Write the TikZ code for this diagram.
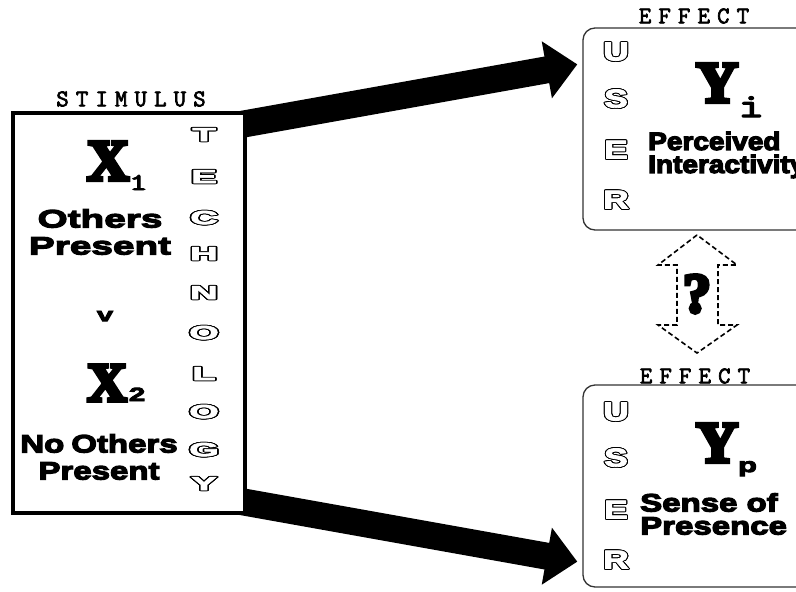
\documentclass[tikz,border=0pt]{standalone}
\usepackage{fontspec}
\usepackage[copies]{contour}
\usetikzlibrary{arrows.meta, positioning, backgrounds}

\newfontfamily\heavysans[FakeBold=5,FakeStretch=1.55]{Liberation Sans Bold}
\newfontfamily\midsans[FakeBold=5,FakeStretch=1.32]{Liberation Sans Bold}
\newfontfamily\narrowsans[FakeBold=5,FakeStretch=1.12]{Liberation Sans Bold}
\newfontfamily\heavyserif[FakeBold=7]{Liberation Serif Bold}
\newfontfamily\spacedmono[FakeBold=3,LetterSpace=30]{Latin Modern Mono}
\newfontfamily\submono[FakeBold=4,FakeStretch=1.5]{Latin Modern Mono}
\newfontfamily\outlinesans[FakeBold=3]{Liberation Sans Bold}
\contourlength{0.8pt}
\newcommand{\hollow}[2]{\scalebox{#1}[1]{\textcolor{white}{\contour{black}{#2}}}}

\begin{document}
\begin{tikzpicture}[x=1pt, y=-1pt,
        stimbox/.style={rectangle, draw=black, line width=3.5pt, fill=white, minimum width=232pt, minimum height=400pt, inner sep=0pt},
        effbox/.style={rectangle, draw=black!80, line width=1.3pt, fill=white, rounded corners=12pt, minimum width=250pt, minimum height=202pt, inner sep=0pt},
        caption/.style={font=\spacedmono\fontsize{24}{24}\selectfont, inner sep=0pt},
        bigvar/.style={inner sep=0pt, anchor=base west},
        cond/.style={align=center, inner sep=0pt, font=\heavysans\fontsize{25}{27}\selectfont},
        effcond/.style={align=left, inner sep=0pt, anchor=west, font=\narrowsans\fontsize{25}{23}\selectfont},
        techletter/.style={inner sep=0pt, font=\outlinesans\fontsize{19}{19}\selectfont},
        userletter/.style={inner sep=0pt, font=\outlinesans\fontsize{26}{26}\selectfont},
        bigarrow/.style={line width=27pt, -{Triangle[length=31pt, width=56pt]}},
        qarrow/.style={draw=black, line width=1.6pt, dash pattern=on 5pt off 3pt}
    ]
    \useasboundingbox (0,0) rectangle (796,592);
    \clip (0,0) rectangle (796,592);

    % Boxes
    \node[stimbox] (stim) at (129,313) {};
    \node[effbox] (effI) at (708,129) {};
    \node[effbox] (effP) at (708,486) {};

    % Captions
    \node[caption] (stimcap) at (131,99) {STIMULUS};
    \node[caption] (effIcap) at (694,16) {EFFECT};
    \node[caption] (effPcap) at (695,376) {EFFECT};

    % Stimulus side
    \node[bigvar] (xone) at (87,180) {{\heavyserif\fontsize{58}{58}\selectfont X}\raisebox{-10pt}{\submono\fontsize{24}{24}\selectfont 1}};
    \node[cond] (others) at (100,232) {Others\\Present};
    \node[cond, font=\heavysans\fontsize{19}{19}\selectfont] (vee) at (105,316) {v};
    \node[bigvar] (xtwo) at (87,401) {{\heavyserif\fontsize{55}{55}\selectfont X}\hspace{2pt}{\heavysans\fontsize{19}{19}\selectfont 2}};
    \node[cond, font=\midsans\fontsize{25}{27}\selectfont] (noothers) at (99,457) {No\hspace{7pt}Others\\Present};

    % TECHNOLOGY
    \node[techletter] (tT) at (204,135) {\hollow{2}{T}};
    \node[techletter] (tE) at (204,177) {\hollow{2}{E}};
    \node[techletter] (tC) at (204,218) {\hollow{2}{C}};
    \node[techletter] (tH) at (204,254) {\hollow{2}{H}};
    \node[techletter] (tN) at (204,293) {\hollow{2}{N}};
    \node[techletter] (tO) at (204,333) {\hollow{2}{O}};
    \node[techletter] (tL) at (204,374) {\hollow{2}{L}};
    \node[techletter] (tOO) at (204,412) {\hollow{2}{O}};
    \node[techletter] (tG) at (204,450) {\hollow{2}{G}};
    \node[techletter] (tY) at (204,484) {\hollow{2}{Y}};

    % Effect side
    \node[bigvar] (yi) at (696,102) {{\heavyserif\fontsize{58}{58}\selectfont Y}\raisebox{-15pt}{\submono\fontsize{34}{34}\selectfont i}};
    \node[effcond] (perc) at (648,155) {Perceived\\Interactivity};
    \node[bigvar] (yp) at (696,462) {{\heavyserif\fontsize{58}{58}\selectfont Y}\raisebox{-10pt}{\heavysans\fontsize{20}{20}\selectfont p}};
    \node[effcond, font=\midsans\fontsize{25}{23}\selectfont] (sense) at (640,514) {Sense of\\Presence};

    % USER
    \node[userletter] (uU) at (616,52) {\hollow{1.35}{U}};
    \node[userletter] (uS) at (616,99) {\hollow{1.35}{S}};
    \node[userletter] (uE) at (616,150) {\hollow{1.35}{E}};
    \node[userletter] (uR) at (616,200) {\hollow{1.35}{R}};
    \node[userletter] (pU) at (616,412) {\hollow{1.35}{U}};
    \node[userletter] (pS) at (616,458) {\hollow{1.35}{S}};
    \node[userletter] (pE) at (616,510) {\hollow{1.35}{E}};
    \node[userletter] (pR) at (616,560) {\hollow{1.35}{R}};

    % Question
    \node[inner sep=0pt, font=\heavyserif\fontsize{56}{56}\selectfont] (quest) at (697,294) {?};
    \draw[qarrow] ([yshift=59pt]quest.center) -- ++(-39,30) -- ++(19,0) -- ++(0,60) -- ++(-19,0) -- ++(39,28) -- ++(40,-28) -- ++(-19,0) -- ++(0,-60) -- ++(19,0) -- cycle;

    % Arrows
    \begin{scope}[on background layer]
        \draw[bigarrow] ([xshift=-10pt, yshift=-14pt]stim.north east) -- ([xshift=-5pt, yshift=-37pt]effI.north west);
        \draw[bigarrow] ([xshift=-10pt, yshift=14pt]stim.south east) -- ([xshift=-5pt, yshift=26pt]effP.south west);
    \end{scope}
\end{tikzpicture}
\end{document}
